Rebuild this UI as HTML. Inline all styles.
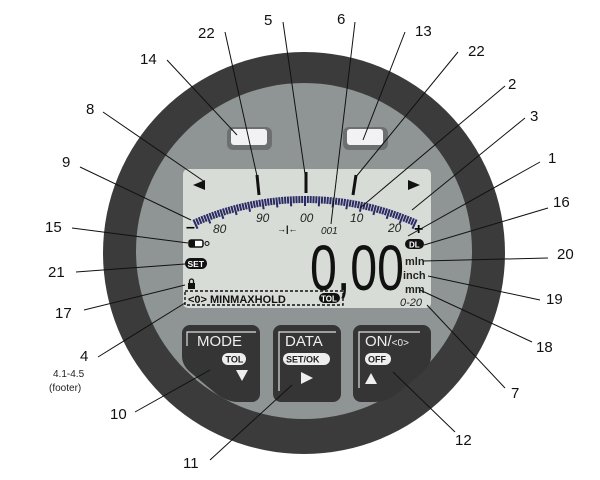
<!DOCTYPE html>
<html><head><style>
html,body{margin:0;padding:0;background:#fff}
svg{display:block}
text{font-family:"Liberation Sans",sans-serif}
</style></head><body>
<svg width="600" height="480" viewBox="0 0 600 480" xmlns="http://www.w3.org/2000/svg">
<circle cx="304" cy="253" r="201" fill="#3b3b3b"/>
<circle cx="304" cy="251" r="168" fill="#8f9594"/>
<rect x="227" y="127" width="45" height="23" rx="6" fill="#6d7070"/>
<rect x="231" y="129" width="36" height="16" rx="3" fill="#f2f2f4"/>
<rect x="343" y="127" width="45" height="23" rx="6" fill="#6d7070"/>
<rect x="347" y="129" width="36" height="16" rx="3" fill="#f2f2f4"/>
<rect x="183" y="169" width="248" height="139" rx="5" fill="#d8dcd6"/>
<polygon points="193,185 205,180 205,190" fill="#111"/>
<polygon points="420,185 408,180 408,190" fill="#111"/>
<g stroke="#2b2b66" stroke-width="2" id="ticks"></g>
<g stroke="#111" stroke-width="3">
<line x1="257" y1="175" x2="259" y2="195"/>
<line x1="306" y1="172" x2="306" y2="193"/>
<line x1="356" y1="175" x2="353" y2="195"/>
</g>
<g font-style="italic" font-size="12" fill="#222">
<text x="213" y="233">80</text>
<text x="256" y="222">90</text>
<text x="300" y="222">00</text>
<text x="350" y="222">10</text>
<text x="388" y="232">20</text>
<text x="321" y="234" font-size="10">001</text>
</g>
<text x="186" y="232" font-size="16" font-weight="bold">–</text>
<text x="414" y="234" font-size="16" font-weight="bold">+</text>
<text x="277" y="232" font-size="9" font-weight="bold">→|←</text>
<text x="310" y="290" font-size="64" fill="#111" textLength="94" lengthAdjust="spacingAndGlyphs">0,00</text>
<rect x="405" y="239" width="19" height="10" rx="5" fill="#111"/>
<text x="409" y="247.5" font-size="8" font-weight="bold" fill="#fff">DL</text>
<g font-size="11" font-weight="bold" fill="#222">
<text x="405" y="265">mln</text>
<text x="403" y="279">inch</text>
<text x="405" y="293">mm</text>
<text x="400" y="306" font-weight="normal" font-style="italic">0-20</text>
</g>
<rect x="189" y="240" width="14" height="7" rx="2" fill="#fff" stroke="#111" stroke-width="1.5"/>
<rect x="189" y="240" width="6" height="7" fill="#111"/>
<circle cx="207" cy="243.5" r="2" fill="none" stroke="#111"/>
<rect x="185" y="258" width="22" height="11" rx="5.5" fill="#111"/>
<text x="187.5" y="267" font-size="8.5" font-weight="bold" fill="#fff">SET</text>
<rect x="188" y="283" width="7" height="6" fill="#111"/>
<path d="M189.5,283 v-2 a2,2 0 0 1 4,0 v2" fill="none" stroke="#111" stroke-width="1.3"/>
<rect x="185" y="291" width="158" height="14" fill="none" stroke="#111" stroke-width="1.4" stroke-dasharray="3,2"/>
<text x="188" y="303" font-size="11" font-weight="bold" fill="#111">&lt;0&gt;  MINMAXHOLD</text>
<rect x="319" y="293" width="21" height="10" rx="5" fill="#111"/>
<text x="321" y="301.5" font-size="8" font-weight="bold" fill="#fff">TOL</text>
<path d="M190,325 H252 a8,8 0 0 1 8,8 V394 a8,8 0 0 1 -8,8 H238 Q226,402 214,392 L190,372 Q182,365 182,356 V333 a8,8 0 0 1 8,-8z" fill="#353535"/>
<path d="M187,346 V332 H256" fill="none" stroke="#ddd" stroke-width="1.2"/>
<text x="197" y="346" font-size="15" fill="#eee">MODE</text>
<rect x="222" y="353" width="24" height="12" rx="6" fill="#eee"/>
<text x="225.5" y="362.5" font-size="9" font-weight="bold" fill="#222">TOL</text>
<polygon points="236,370 248,370 242,381" fill="#eee"/>
<rect x="273" y="325" width="68" height="77" rx="8" fill="#353535"/>
<path d="M279,391 V332 H336" fill="none" stroke="#ddd" stroke-width="1.2"/>
<text x="285" y="346" font-size="15" fill="#eee">DATA</text>
<rect x="283" y="353" width="47" height="12" rx="6" fill="#eee"/>
<text x="286" y="362.5" font-size="9" font-weight="bold" fill="#222">SET/OK</text>
<polygon points="301,372 301,384 313,378" fill="#eee"/>
<path d="M361,325 H423 a8,8 0 0 1 8,8 V356 Q431,365 423,372 L399,392 Q387,402 375,402 H361 a8,8 0 0 1 -8,-8 V333 a8,8 0 0 1 8,-8z" fill="#353535"/>
<path d="M359,388 V332 H420" fill="none" stroke="#ddd" stroke-width="1.2"/>
<text x="365" y="346" font-size="15" fill="#eee">ON/<tspan font-size="10">&lt;0&gt;</tspan></text>
<rect x="365" y="353" width="26" height="12" rx="6" fill="#eee"/>
<text x="368" y="362.5" font-size="9" font-weight="bold" fill="#222">OFF</text>
<polygon points="365,384 377,384 371,373" fill="#eee"/>
<g stroke="#111" stroke-width="1">
<line x1="225" y1="32" x2="257" y2="176"/>
<line x1="283" y1="22" x2="305" y2="174"/>
<line x1="355" y1="22" x2="331" y2="224"/>
<line x1="405" y1="32" x2="363" y2="140"/>
<line x1="458" y1="52" x2="355" y2="178"/>
<line x1="505" y1="86" x2="360" y2="208"/>
<line x1="525" y1="118" x2="412" y2="210"/>
<line x1="540" y1="162" x2="408" y2="236"/>
<line x1="548" y1="208" x2="424" y2="245"/>
<line x1="548" y1="258" x2="423" y2="261"/>
<line x1="540" y1="300" x2="428" y2="276"/>
<line x1="532" y1="342" x2="420" y2="290"/>
<line x1="505" y1="388" x2="427" y2="305"/>
<line x1="455" y1="432" x2="393" y2="372"/>
<line x1="210" y1="460" x2="292" y2="385"/>
<line x1="135" y1="412" x2="210" y2="370"/>
<line x1="98" y1="357" x2="185" y2="303"/>
<line x1="84" y1="310" x2="185" y2="285"/>
<line x1="76" y1="272" x2="185" y2="264"/>
<line x1="72" y1="228" x2="188" y2="243"/>
<line x1="80" y1="167" x2="191" y2="220"/>
<line x1="103" y1="112" x2="205" y2="182"/>
<line x1="167" y1="60" x2="237" y2="135"/>
</g>
<g font-size="15" fill="#111">
<text x="198" y="38">22</text>
<text x="264" y="25">5</text>
<text x="337" y="24">6</text>
<text x="415" y="36">13</text>
<text x="468" y="56">22</text>
<text x="508" y="89">2</text>
<text x="530" y="121">3</text>
<text x="548" y="163">1</text>
<text x="553" y="207">16</text>
<text x="557" y="259">20</text>
<text x="546" y="304">19</text>
<text x="536" y="352">18</text>
<text x="511" y="398">7</text>
<text x="455" y="445">12</text>
<text x="183" y="468">11</text>
<text x="110" y="419">10</text>
<text x="80" y="361">4</text>
<text x="55" y="318">17</text>
<text x="48" y="277">21</text>
<text x="45" y="232">15</text>
<text x="62" y="167">9</text>
<text x="86" y="114">8</text>
<text x="140" y="64">14</text>
</g>
<text x="53" y="377" font-size="10" fill="#222">4.1-4.5</text>
<text x="49" y="391" font-size="10" fill="#222">(footer)</text>
</svg>
<script>
var g=document.getElementById('ticks');var cx=305,cy=472,R=276;
for(var i=-40;i<=40;i++){var a=i*0.0104;var s=Math.sin(a),c=Math.cos(a);
var L=(i%5==0)?10:7;var x1=cx+R*s,y1=cy-R*c,x2=cx+(R-L)*s,y2=cy-(R-L)*c;
var l=document.createElementNS('http://www.w3.org/2000/svg','line');
l.setAttribute('x1',x1);l.setAttribute('y1',y1);l.setAttribute('x2',x2);l.setAttribute('y2',y2);g.appendChild(l);}
</script>
</body></html>
